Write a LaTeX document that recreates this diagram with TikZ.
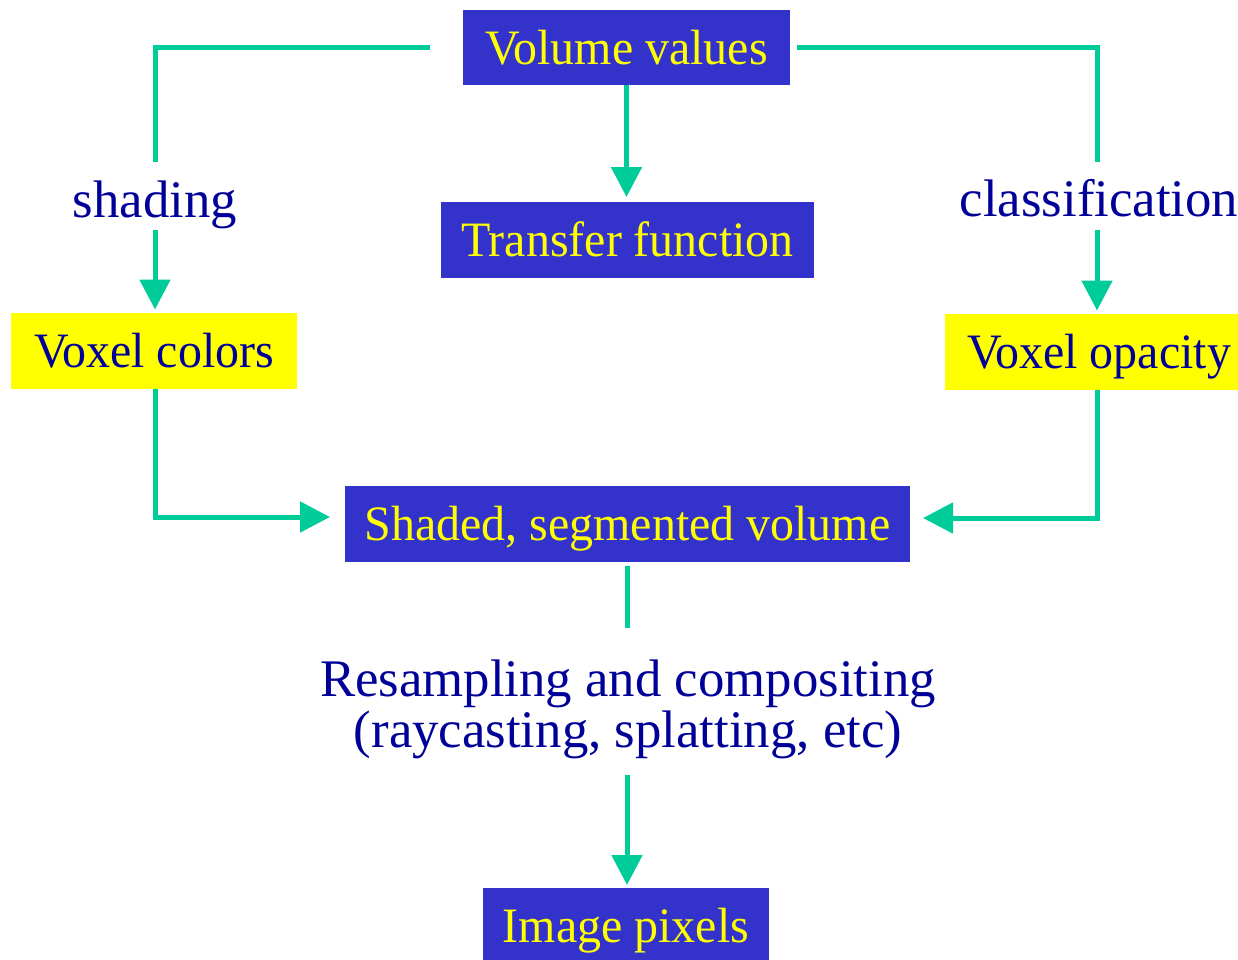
\documentclass[tikz,border=0pt]{standalone}
\usepackage{fontspec}
\setmainfont{Liberation Serif}
% slightly condensed cut for the text inside the boxes
\newfontfamily\boxfont[FakeStretch=0.968]{Liberation Serif}
\usetikzlibrary{arrows.meta}

\definecolor{boxblue}{RGB}{51,51,204}
\definecolor{flowgreen}{RGB}{0,204,153}
\definecolor{labelblue}{RGB}{0,0,153}
\definecolor{hiyellow}{RGB}{255,255,0}

\begin{document}
\begin{tikzpicture}[x=1pt,y=-1pt,
  stagebox/.style={rectangle, inner sep=0pt, outer sep=0pt,
    text height=33pt, text depth=0pt,
    font=\boxfont\fontsize{49.5}{52}\selectfont},
  bluebox/.style={stagebox, fill=boxblue, text=hiyellow},
  yellowbox/.style={stagebox, fill=hiyellow, text=labelblue},
  steplabel/.style={inner sep=0pt, anchor=base, text=labelblue,
    font=\fontsize{52.8}{51}\selectfont},
  flow/.style={draw=flowgreen, line width=5pt, line join=miter},
  flowarrow/.style={flow, -{Triangle[length=30pt,width=30pt]}}
]
% canvas
\fill[white] (0,0) rectangle (1238,959);
\useasboundingbox (0,0) rectangle (1238,959);

% stages of the pipeline
\node[bluebox, minimum width=327pt, minimum height=75pt]   (vv) at (626.5,47.5) {Volume values};
\node[bluebox, minimum width=373pt, minimum height=76pt]   (tf) at (627.5,240)  {Transfer function};
\node[yellowbox, minimum width=286pt, minimum height=76pt] (vc) at (154,351)    {Voxel colors};
\node[yellowbox, minimum width=308pt, minimum height=76pt] (vo) at (1099,352)   {Voxel opacity};
\node[bluebox, minimum width=565pt, minimum height=76pt]   (sv) at (627.5,524)  {Shaded, segmented volume};
\node[bluebox, minimum width=286pt, minimum height=76pt]   (ip) at (626,926)    {Image pixels};

% operation labels
\node[steplabel] (shd) at (155,217)  {shading};
\node[steplabel] (cls) at (1099,216) {classification};
\node[steplabel] (rs1) at (628,696)  {Resampling and compositing};
\node[steplabel] (rs2) at (628,747)  {(raycasting, splatting, etc)};

% ends of the line pieces around the labels
\coordinate (shdtop) at (155,162);
\coordinate (shdbot) at (155,230);
\coordinate (clstop) at (1097,162);
\coordinate (clsbot) at (1097,230);
\coordinate (rstop)  at (627,628);
\coordinate (rsbot)  at (627,775);

% connectors
\draw[flow] ([xshift=-33pt]vv.west) -| (shdtop);
\draw[flowarrow, shorten >=3.5pt] (shdbot) -- (shdbot |- vc.north);

\draw[flow] ([xshift=7pt]vv.east) -| (clstop);
\draw[flowarrow, shorten >=3.5pt] (clsbot) -- (clsbot |- vo.north);

\draw[flowarrow, shorten >=5pt] (vv.south) -- (vv.south |- tf.north);

\draw[flowarrow, shorten >=15pt] ([xshift=1pt]vc.south) |- ([yshift=7pt]sv.west);
\draw[flowarrow, shorten >=13pt] ([xshift=-2pt]vo.south) |- ([yshift=6pt]sv.east);

\draw[flow, shorten <=4pt] (sv.south -| rstop) -- (rstop);
\draw[flowarrow, shorten >=3pt] (rsbot) -- (rsbot |- ip.north);
\end{tikzpicture}
\end{document}
